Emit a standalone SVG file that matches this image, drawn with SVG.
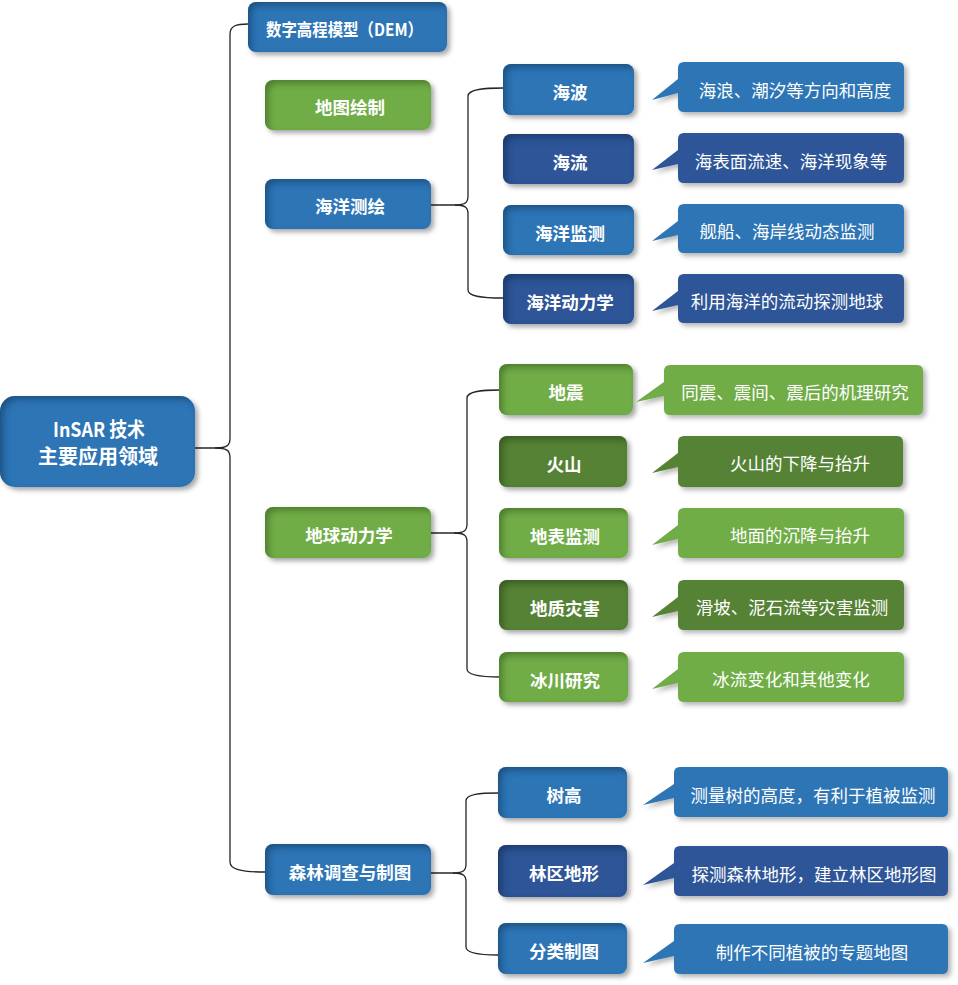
<svg xmlns="http://www.w3.org/2000/svg" width="958" height="985" viewBox="0 0 958 985">
<defs>
<style>
.lb{fill:#2E75B6}.db{fill:#2F5597}.lg{fill:#70AD47}.dg{fill:#548235}
.node{filter:url(#nf)}.call{filter:url(#cf)}
.nt{font-family:"Noto Sans CJK SC","Noto Sans",sans-serif;font-weight:bold;font-size:17.5px;fill:#fff;text-anchor:middle;dominant-baseline:central}
.ct{font-family:"Noto Sans CJK SC","Noto Sans",sans-serif;font-weight:normal;font-size:17.5px;fill:#fff;text-anchor:middle;dominant-baseline:central}
.conn{fill:none;stroke:#262626;stroke-width:1.3}
</style>
<filter id="nf" x="-10%" y="-20%" width="125%" height="150%">
<feGaussianBlur in="SourceAlpha" stdDeviation="2.5" result="b"/>
<feOffset in="b" dx="3" dy="3" result="ob"/>
<feFlood flood-color="#000" flood-opacity="0.35"/>
<feComposite in2="ob" operator="in" result="drop"/>
<feOffset in="SourceAlpha" dx="4" dy="4" result="o2"/>
<feGaussianBlur in="o2" stdDeviation="3" result="b2"/>
<feComposite in="SourceAlpha" in2="b2" operator="out" result="inv"/>
<feFlood flood-color="#000" flood-opacity="0.5"/>
<feComposite in2="inv" operator="in" result="inner"/>
<feMerge><feMergeNode in="drop"/><feMergeNode in="SourceGraphic"/><feMergeNode in="inner"/></feMerge>
</filter>
<filter id="cf" x="-10%" y="-20%" width="125%" height="150%">
<feGaussianBlur in="SourceAlpha" stdDeviation="2.5" result="b"/>
<feOffset in="b" dx="3" dy="3" result="ob"/>
<feFlood flood-color="#000" flood-opacity="0.3"/>
<feComposite in2="ob" operator="in" result="drop"/>
<feMerge><feMergeNode in="drop"/><feMergeNode in="SourceGraphic"/></feMerge>
</filter>
</defs>
<rect width="958" height="985" fill="#fff"/>

<g id="connectors">
<path class="conn" d="M248,24 C236,24 230,26 230,34 L230,438 C230,445 228,448 215,448 L195,448"/>
<path class="conn" d="M215,448 C228,448 230,451 230,458 L230,862 C230,869 240,872 265,872"/>
<path class="conn" d="M503,88 C485,88 468,89 468,96 L468,196 C468,202 466,205 455,205 L431,205"/>
<path class="conn" d="M455,205 C466,205 468,208 468,214 L468,290 C468,296 480,298 503,298"/>
<path class="conn" d="M500,390 C482,390 467,391 467,398 L467,524 C467,530 465,533 454,533 L431,533"/>
<path class="conn" d="M454,533 C465,533 467,536 467,542 L467,669 C467,675 479,677 500,677"/>
<path class="conn" d="M498,793 C480,793 466,794 466,801 L466,864 C466,870 464,873 453,873 L431,873"/>
<path class="conn" d="M453,873 C464,873 466,876 466,882 L466,947 C466,953 478,955 498,955"/>
</g>

<g id="root"><rect class="node lb" x="0" y="396" width="195" height="91" rx="15"/>
<text class="nt" x="99" y="428" style="font-size:20px" textLength="92" lengthAdjust="spacingAndGlyphs">InSAR 技术</text>
<text class="nt" x="98" y="455" style="font-size:20px">主要应用领域</text></g>

<g id="dem"><rect class="node lb" x="248" y="2" width="199" height="50" rx="8"/>
<text class="nt" x="266" y="28" style="text-anchor:start" textLength="157" lengthAdjust="spacingAndGlyphs">数字高程模型（DEM）</text></g>
<g id="map"><rect class="node lg" x="265" y="80" width="166" height="50" rx="8"/><text class="nt" x="350" y="106">地图绘制</text></g>
<g id="ocean"><rect class="node lb" x="265" y="179" width="166" height="50" rx="8"/><text class="nt" x="350" y="205">海洋测绘</text></g>
<g id="geo"><rect class="node lg" x="265" y="507" width="166" height="51" rx="8"/><text class="nt" x="349" y="534">地球动力学</text></g>
<g id="forest"><rect class="node lb" x="265" y="844" width="166" height="51" rx="8"/><text class="nt" x="350" y="871">森林调查与制图</text></g>

<g id="n-haibo"><rect class="node lb" x="503" y="64" width="131" height="51" rx="8"/><text class="nt" x="570" y="91">海波</text></g>
<g id="n-hailiu"><rect class="node db" x="503" y="134" width="131" height="50" rx="8"/><text class="nt" x="570" y="161">海流</text></g>
<g id="n-hyjc"><rect class="node lb" x="503" y="205" width="131" height="50" rx="8"/><text class="nt" x="570" y="232">海洋监测</text></g>
<g id="n-hydlx"><rect class="node db" x="503" y="274" width="131" height="50" rx="8"/><text class="nt" x="570" y="301">海洋动力学</text></g>

<g id="n-dizhen"><rect class="node lg" x="499" y="364" width="134" height="51" rx="8"/><text class="nt" x="566" y="391">地震</text></g>
<g id="n-huoshan"><rect class="node dg" x="499" y="436" width="128" height="51" rx="8"/><text class="nt" x="564" y="463">火山</text></g>
<g id="n-dbjc"><rect class="node lg" x="499" y="508" width="129" height="50" rx="8"/><text class="nt" x="565" y="535">地表监测</text></g>
<g id="n-dzzh"><rect class="node dg" x="499" y="580" width="129" height="50" rx="8"/><text class="nt" x="565" y="607">地质灾害</text></g>
<g id="n-bcyj"><rect class="node lg" x="499" y="652" width="129" height="50" rx="8"/><text class="nt" x="565" y="679">冰川研究</text></g>

<g id="n-shugao"><rect class="node lb" x="498" y="767" width="129" height="51" rx="8"/><text class="nt" x="564" y="794">树高</text></g>
<g id="n-lqdx"><rect class="node db" x="498" y="845" width="129" height="52" rx="8"/><text class="nt" x="564" y="872">林区地形</text></g>
<g id="n-flzt"><rect class="node lb" x="498" y="923" width="129" height="51" rx="8"/><text class="nt" x="564" y="950">分类制图</text></g>

<g id="c-hailang"><path class="call lb" d="M684,62 H898 Q904,62 904,68 V106 Q904,112 898,112 H684 Q678,112 678,106 V93 L652,100 L678,79 V68 Q678,62 684,62 Z"/><text class="ct" x="795" y="89">海浪、潮汐等方向和高度</text></g>
<g id="c-hbm"><path class="call db" d="M684,133 H898 Q904,133 904,139 V177 Q904,183 898,183 H684 Q678,183 678,177 V164 L652,170 L678,150 V139 Q678,133 684,133 Z"/><text class="ct" x="791" y="160">海表面流速、海洋现象等</text></g>
<g id="c-jc"><path class="call lb" d="M684,204 H898 Q904,204 904,210 V247 Q904,253 898,253 H684 Q678,253 678,247 V235 L652,241 L678,221 V210 Q678,204 684,204 Z"/><text class="ct" x="787" y="230">舰船、海岸线动态监测</text></g>
<g id="c-ly"><path class="call db" d="M684,274 H898 Q904,274 904,280 V317 Q904,323 898,323 H684 Q678,323 678,317 V305 L652,311 L678,291 V280 Q678,274 684,274 Z"/><text class="ct" x="787" y="300">利用海洋的流动探测地球</text></g>

<g id="c-tz"><path class="call lg" d="M670,365 H917 Q923,365 923,371 V409 Q923,415 917,415 H670 Q664,415 664,409 V396 L636,402 L664,382 V371 Q664,365 670,365 Z"/><text class="ct" x="795" y="391">同震、震间、震后的机理研究</text></g>
<g id="c-hs"><path class="call dg" d="M684,436 H897 Q903,436 903,442 V481 Q903,487 897,487 H684 Q678,487 678,481 V467 L652,473 L678,453 V442 Q678,436 684,436 Z"/><text class="ct" x="800" y="462">火山的下降与抬升</text></g>
<g id="c-dm"><path class="call lg" d="M684,508 H898 Q904,508 904,514 V552 Q904,558 898,558 H684 Q678,558 678,552 V539 L652,545 L678,525 V514 Q678,508 684,508 Z"/><text class="ct" x="800" y="534">地面的沉降与抬升</text></g>
<g id="c-hp"><path class="call dg" d="M684,580 H898 Q904,580 904,586 V624 Q904,630 898,630 H684 Q678,630 678,624 V611 L652,617 L678,597 V586 Q678,580 684,580 Z"/><text class="ct" x="792" y="606">滑坡、泥石流等灾害监测</text></g>
<g id="c-bl"><path class="call lg" d="M684,652 H898 Q904,652 904,658 V696 Q904,702 898,702 H684 Q678,702 678,696 V683 L652,689 L678,669 V658 Q678,652 684,652 Z"/><text class="ct" x="791" y="678">冰流变化和其他变化</text></g>

<g id="c-cl"><path class="call lb" d="M680,767 H942 Q948,767 948,773 V811 Q948,817 942,817 H680 Q674,817 674,811 V798 L643,805 L674,784 V773 Q674,767 680,767 Z"/><text class="ct" x="813" y="794">测量树的高度，有利于植被监测</text></g>
<g id="c-tc"><path class="call db" d="M680,846 H942 Q948,846 948,852 V890 Q948,896 942,896 H680 Q674,896 674,890 V878 L643,885 L674,863 V852 Q674,846 680,846 Z"/><text class="ct" x="814" y="873">探测森林地形，建立林区地形图</text></g>
<g id="c-zz"><path class="call lb" d="M680,924 H942 Q948,924 948,930 V968 Q948,974 942,974 H680 Q674,974 674,968 V956 L643,963 L674,941 V930 Q674,924 680,924 Z"/><text class="ct" x="812" y="951">制作不同植被的专题地图</text></g>
</svg>
